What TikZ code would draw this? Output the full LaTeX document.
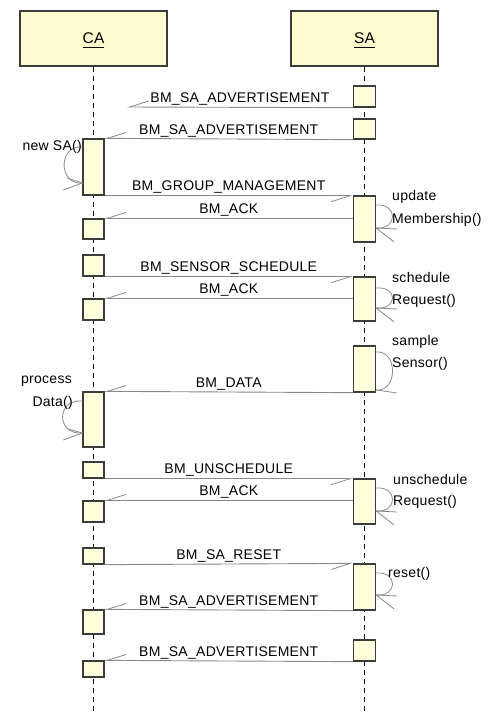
\documentclass[tikz,border=0pt]{standalone}
\usepackage{fontspec}
\setmainfont{Liberation Sans}[LetterSpace=2]
\usetikzlibrary{arrows.meta,fit,calc}
\definecolor{headfill}{HTML}{FFFCCF}
\definecolor{actfill}{HTML}{FFFFDC}
\definecolor{boxline}{HTML}{3C3C3C}
\definecolor{msgline}{HTML}{8A8A8A}
% underlined object name for the lifeline heads
\newcommand\objname[1]{\setbox0\hbox{#1}\rlap{\vrule height -2.6pt depth 3.6pt width \wd0}\box0}
\begin{document}
\begin{tikzpicture}[x=1pt,y=-1pt,
  head/.style={draw=boxline, fill=headfill, line width=1.5pt, minimum width=147pt,
    minimum height=55pt, inner sep=0pt, font=\fontsize{15.5}{18}\selectfont, text depth=0pt},
  act/.style={draw=boxline, fill=actfill, line width=1.3pt, inner sep=0pt},
  life/.style={line width=1.2pt, dash pattern=on 5pt off 4pt},
  msg/.style={draw=msgline, line width=0.9pt,
    -{Straight Barb[harpoon, swap, length=19pt, width=12pt, line width=0.8pt]}},
  lbl/.style={font=\fontsize{14}{17}\selectfont, inner sep=0pt, anchor=base, yshift=5pt, text=black},
  note/.style={font=\fontsize{14}{17}\selectfont, inner sep=0pt},
  selfloop/.style={draw=msgline, line width=0.8pt},
]
\fill[white] (0,0) rectangle (489,713);
\useasboundingbox (0,0) rectangle (489,713);

% lifeline heads
\node[head] (ca) at (93.5,38.5) {\objname{CA}};
\node[head] (sa) at (364.5,38.5) {\objname{SA}};

% lifelines
\coordinate (caend) at (93.5,713);
\coordinate (saend) at (364.5,713);
\draw[life] (ca.south) -- (caend);
\draw[life] (sa.south) -- (saend);

% activations of CA
\node[act, fit={(83,139) (104,195)}] (a1) {};
\node[act, fit={(83,219) (104,239)}] (a2) {};
\node[act, fit={(83,255) (104,276)}] (a3) {};
\node[act, fit={(83,299) (104,320)}] (a4) {};
\node[act, fit={(83,392) (104,447)}] (a5) {};
\node[act, fit={(83,462) (104,478)}] (a6) {};
\node[act, fit={(83,501) (104,522)}] (a7) {};
\node[act, fit={(83,548) (104,564)}] (a8) {};
\node[act, fit={(83,610) (104,634)}] (a9) {};
\node[act, fit={(83,661) (104,677)}] (a10) {};

% activations of SA
\node[act, fit={(353.5,86) (375.5,107)}] (b1) {};
\node[act, fit={(353.5,119) (375.5,139)}] (b2) {};
\node[act, fit={(353.5,196) (375.5,242)}] (b3) {};
\node[act, fit={(353.5,277) (375.5,321)}] (b4) {};
\node[act, fit={(353.5,346) (375.5,392)}] (b5) {};
\node[act, fit={(353.5,479) (375.5,524)}] (b6) {};
\node[act, fit={(353.5,564) (375.5,610)}] (b7) {};
\node[act, fit={(353.5,640) (375.5,661)}] (b8) {};

% messages
\coordinate (lost) at (127,107);
\draw[msg] (b1.south west) -- (lost) node[lbl, midway] {BM\_SA\_ADVERTISEMENT};
\draw[msg] (b2.south west) -- (a1.north east) node[lbl, midway] {BM\_SA\_ADVERTISEMENT};
\draw[msg] (a1.south east) -- (a1.south east -| b3.west) node[lbl, midway] {BM\_GROUP\_MANAGEMENT};
\draw[msg] (b3.west |- a2.north) -- (a2.north east) node[lbl, midway] {BM\_ACK};
\draw[msg] (a3.south east) -- (a3.south east -| b4.west) node[lbl, midway] {BM\_SENSOR\_SCHEDULE};
\draw[msg] (b4.west |- a4.north) -- (a4.north east) node[lbl, midway] {BM\_ACK};
\draw[msg] (b5.south west) -- (a5.north east) node[lbl, midway] {BM\_DATA};
\draw[msg] (a6.south east) -- (a6.south east -| b6.west) node[lbl, midway] {BM\_UNSCHEDULE};
\draw[msg] (b6.west |- a7.north) -- (a7.north east) node[lbl, midway] {BM\_ACK};
\draw[msg] (a8.south east) -- (b7.north west) node[lbl, midway] {BM\_SA\_RESET};
\draw[msg] (b7.south west) -- (a9.north east) node[lbl, midway] {BM\_SA\_ADVERTISEMENT};
\draw[msg] (b8.south west) -- (a10.north east) node[lbl, midway] {BM\_SA\_ADVERTISEMENT};

% self calls on CA
\draw[selfloop] (a1.west |- 0,147) .. controls (58,145) and (58,185) .. (a1.west |- 0,183) coordinate (n1);
\draw[selfloop] ($(n1)+(-15,-5)$) -- (n1) -- ($(n1)+(-19,7)$);
\node[note, anchor=base east] (newsa) at (82,150) {new SA()};

\draw[selfloop] (a5.west |- 0,401) .. controls (56,399) and (56,435) .. (a5.west |- 0,433) coordinate (p1);
\draw[selfloop] ($(p1)+(-14,-4)$) -- (p1) -- ($(p1)+(-19,7)$);
\node[note, anchor=base east] (proc1) at (72,383.5) {process};
\node[note, anchor=base east] (proc2) at (73,406) {Data()};

% self calls on SA
\draw[selfloop] (b3.east |- 0,205) .. controls (398,203) and (398,230) .. (b3.east |- 0,228) coordinate (u1);
\draw[selfloop] ($(u1)+(21,1)$) -- (u1) -- ($(u1)+(18,14)$);
\node[note, anchor=base west] (upd1) at (392,200.5) {update};
\node[note, anchor=base west] (upd2) at (392,223) {Membership()};

\draw[selfloop] (b4.east |- 0,288) .. controls (398,286) and (398,310) .. (b4.east |- 0,308) coordinate (s1);
\draw[selfloop] ($(s1)+(21,1)$) -- (s1) -- ($(s1)+(18,14)$);
\node[note, anchor=base west] (sch1) at (392,282) {schedule};
\node[note, anchor=base west] (sch2) at (392,304) {Request()};

\draw[selfloop] (b5.east |- 0,352) .. controls (398,350) and (398,392) .. (b5.east |- 0,390) coordinate (m1);
\draw[selfloop] (m1) -- ($(m1)+(21,3)$);
\node[note, anchor=base west] (smp1) at (392,345.5) {sample};
\node[note, anchor=base west] (smp2) at (392,367) {Sensor()};

\draw[selfloop] (b6.east |- 0,488) .. controls (398,486) and (398,513) .. (b6.east |- 0,511) coordinate (r1);
\draw[selfloop] ($(r1)+(21,1)$) -- (r1) -- ($(r1)+(18,14)$);
\node[note, anchor=base west] (uns1) at (393,484) {unschedule};
\node[note, anchor=base west] (uns2) at (393,505) {Request()};

\draw[selfloop] (b7.east |- 0,573) .. controls (398,571) and (398,597) .. (b7.east |- 0,595) coordinate (t1);
\draw[selfloop] ($(t1)+(21,1)$) -- (t1) -- ($(t1)+(18,14)$);
\node[note, anchor=base west] (rst) at (388,577) {reset()};
\end{tikzpicture}
\end{document}
